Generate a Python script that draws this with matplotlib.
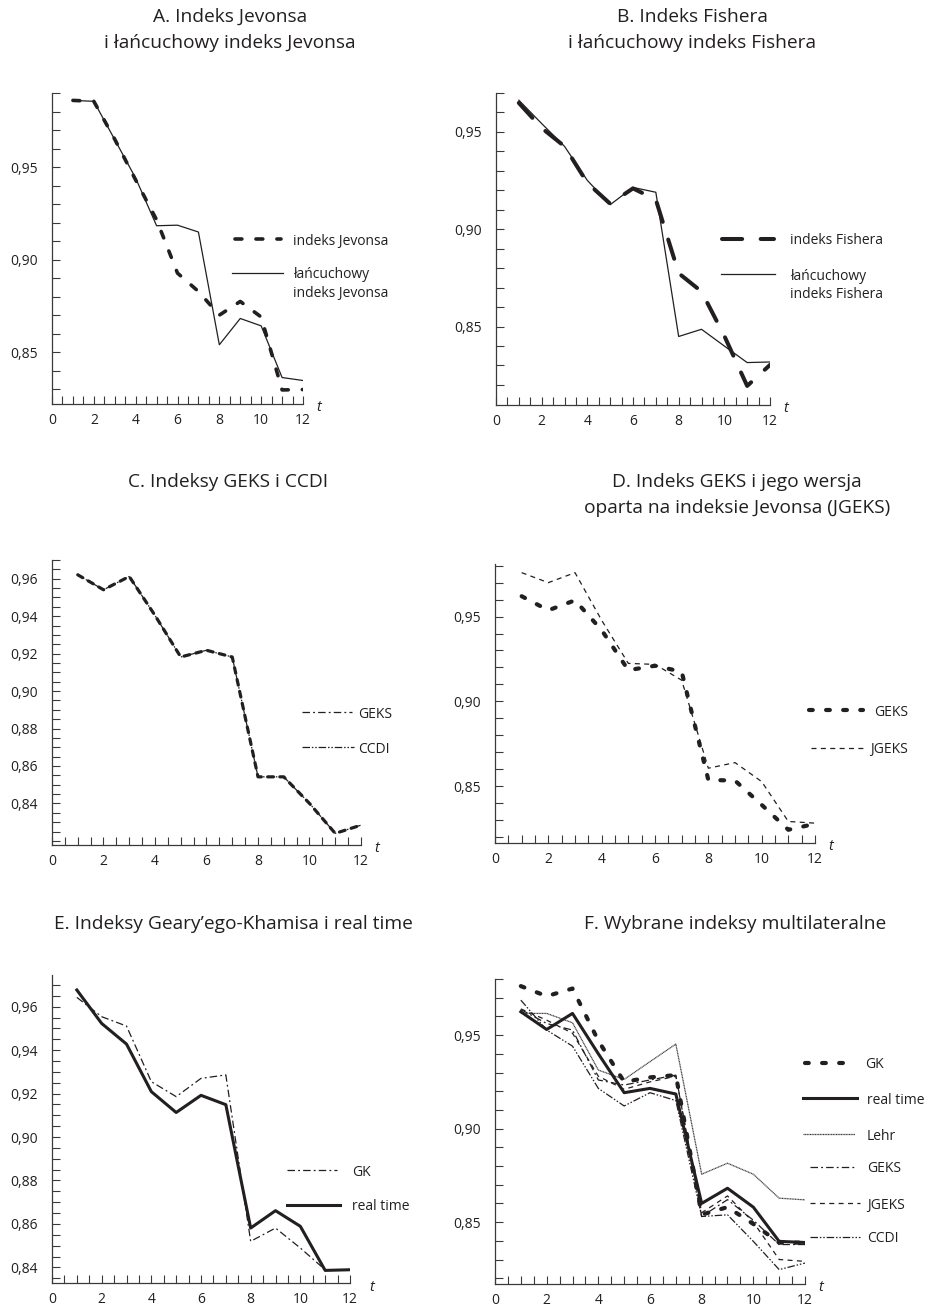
import matplotlib
matplotlib.use("Agg")
import matplotlib.pyplot as plt
import numpy as np
from matplotlib.lines import Line2D

plt.rcParams["font.family"] = ["Open Sans", "DejaVu Sans"]

INK = "#231f20"
SPINE = "#3a3a3a"
W, H = 927, 1315

t = np.arange(1, 13)

# A. Jevons vs chained Jevons
jevons = [0.986, 0.9855, 0.965, 0.943, 0.9215, 0.8927, 0.8828, 0.870, 0.8774, 0.869, 0.8296, 0.8298]
chain_jevons = [0.986, 0.9855, 0.9648, 0.944, 0.9183, 0.9186, 0.9149, 0.854, 0.8682, 0.8642, 0.8363, 0.8347]

# B. Fisher vs chained Fisher
fisher = [0.9649, 0.952, 0.9426, 0.9238, 0.9131, 0.921, 0.9152, 0.8774, 0.868, 0.8452, 0.8195, 0.8303]
chain_fisher = [0.9663, 0.9543, 0.9426, 0.9251, 0.9126, 0.9215, 0.919, 0.8449, 0.8486, 0.840, 0.8315, 0.8318]

# C. GEKS and CCDI
geks_c = [0.9621, 0.9541, 0.9612, 0.9404, 0.9182, 0.9218, 0.9182, 0.8542, 0.8542, 0.840, 0.824, 0.8284]
ccdi_c = [0.9621, 0.9541, 0.9612, 0.9404, 0.9182, 0.9218, 0.9182, 0.8542, 0.8542, 0.840, 0.824, 0.8284]

# D. GEKS and JGEKS
geks_d = [0.962, 0.9537, 0.9596, 0.942, 0.9184, 0.921, 0.9175, 0.8537, 0.8533, 0.839, 0.8243, 0.8278]
jgeks_d = [0.9759, 0.970, 0.9759, 0.9478, 0.9224, 0.9218, 0.9125, 0.8606, 0.8639, 0.8527, 0.8292, 0.8282]

# E. Geary-Khamis and real time
gk_e = [0.9643, 0.9554, 0.9511, 0.9255, 0.9186, 0.927, 0.9286, 0.852, 0.8581, 0.8489, 0.8389, 0.8389]
rt_e = [0.9677, 0.9523, 0.9428, 0.9209, 0.9113, 0.9192, 0.9149, 0.8581, 0.8661, 0.8589, 0.8386, 0.8389]

# F. selected multilateral indices
gk_f = [0.9762, 0.9708, 0.9749, 0.947, 0.925, 0.9274, 0.9286, 0.854, 0.858, 0.849, 0.839, 0.839]
rt_f = [0.9625, 0.953, 0.9616, 0.940, 0.9192, 0.9215, 0.9185, 0.860, 0.8681, 0.858, 0.8397, 0.8391]
lehr_f = [0.9616, 0.9616, 0.9566, 0.9313, 0.9263, 0.9358, 0.9452, 0.8756, 0.8815, 0.8756, 0.8628, 0.8619]
geks_f = [0.9637, 0.9562, 0.9527, 0.926, 0.9233, 0.926, 0.9286, 0.853, 0.862, 0.851, 0.838, 0.838]
jgeks_f = [0.964, 0.958, 0.951, 0.928, 0.921, 0.925, 0.928, 0.855, 0.864, 0.850, 0.830, 0.829]
ccdi_f = [0.9687, 0.9527, 0.9441, 0.9215, 0.9121, 0.9192, 0.915, 0.853, 0.8539, 0.8397, 0.8246, 0.8281]

# line styles
STY = {
    "thin": dict(lw=0.9, ls="-"),
    "thick": dict(lw=2.2, ls="-"),
    "jev": dict(lw=2.6, ls=(0, (1.9, 3.9)), dash_capstyle="round"),
    "fish": dict(lw=2.9, ls=(0, (5.0, 4.6)), dash_capstyle="round"),
    "dots": dict(lw=3.0, ls=(0, (0.9, 3.2)), dash_capstyle="round"),
    "geks_heavy": dict(lw=2.3, ls=(0, (1.8, 2.0)), dash_capstyle="round"),
    "dashdot": dict(lw=0.9, ls=(0, (6, 2.5, 1.5, 2.5))),
    "dashdotdot": dict(lw=0.9, ls=(0, (6, 1.5, 1.2, 1.5, 1.2, 1.5))),
    "dashed": dict(lw=0.9, ls=(0, (4, 3.5))),
    "dotted": dict(lw=0.9, ls=(0, (0.9, 0.4))),
}

fig = plt.figure(figsize=(W / 100, H / 100), dpi=100)


def make_axes(left, right, top, bottom):
    return fig.add_axes([left / W, 1 - bottom / H, (right - left) / W, (bottom - top) / H])


def style_axes(ax, ylim, major, minor, t_off=(11.5, -2.5)):
    ax.set_xlim(0, 12)
    ax.set_ylim(*ylim)
    for s in ["top", "right"]:
        ax.spines[s].set_visible(False)
    for s in ["left", "bottom"]:
        ax.spines[s].set_color(SPINE)
        ax.spines[s].set_linewidth(0.9)
    ax.set_xticks(range(0, 13, 2))
    ax.set_xticks(np.arange(0, 12.01, 0.5), minor=True)
    ax.set_yticks(major)
    ax.set_yticklabels([f"{v:.2f}".replace(".", ",") for v in major])
    ax.set_yticks(minor, minor=True)
    ax.tick_params(which="both", direction="in", length=5.5, width=0.8, color=SPINE)
    ax.tick_params(axis="x", labelsize=10, pad=6.5, labelcolor=INK)
    ax.tick_params(axis="y", labelsize=10, pad=10.5, labelcolor=INK)
    ax.annotate("t", xy=(1, 0), xycoords="axes fraction", xytext=t_off,
                textcoords="offset points", ha="center", va="center",
                fontsize=10.5, style="italic", color=INK)


def legend_entry(x0, x1, y, style, text_x, lines, color=INK):
    fig.add_artist(Line2D([x0 / W, x1 / W], [1 - y / H, 1 - y / H], color=color,
                          transform=fig.transFigure, **STY[style]))
    for i, line in enumerate(lines):
        fig.text(text_x / W, 1 - (y + 2 + i * 18) / H, line, fontsize=10,
                 color=INK, ha="left", va="center")


def title(x, y, lines):
    for i, line in enumerate(lines):
        fig.text(x / W, 1 - (y + i * 26) / H, line, fontsize=13.8, color=INK,
                 ha="center", va="center")


def ticks(lo, hi, step):
    return np.round(np.arange(lo, hi + step / 2, step), 3)


# ---- A ----
axA = make_axes(52, 303, 93, 404)
axA.plot(t, chain_jevons, color=INK, **STY["thin"])
axA.plot(t, jevons, color=INK, **STY["jev"])
style_axes(axA, (0.822, 0.990), [0.85, 0.90, 0.95], ticks(0.83, 0.99, 0.01))
title(230, 17, ["A. Indeks Jevonsa", "i łańcuchowy indeks Jevonsa"])
legend_entry(235, 281, 239, "jev", 293, ["indeks Jevonsa"])
legend_entry(232, 283, 273, "thin", 293, ["łańcuchowy", "indeks Jevonsa"])

# ---- B ----
axB = make_axes(496, 770, 93, 405)
axB.plot(t, chain_fisher, color=INK, **STY["thin"])
axB.plot(t, fisher, color=INK, **STY["fish"])
style_axes(axB, (0.8097, 0.970), [0.85, 0.90, 0.95], ticks(0.82, 0.97, 0.01))
title(692, 17, ["B. Indeks Fishera", "i łańcuchowy indeks Fishera"])
legend_entry(722, 774, 239, "fish", 790, ["indeks Fishera"])
legend_entry(721, 775, 274, "thin", 790, ["łańcuchowy", "indeks Fishera"])

# ---- C ----
axC = make_axes(52, 361, 560, 845)
axC.plot(t, geks_c, color=INK, **STY["geks_heavy"])
axC.plot(t, ccdi_c, color=INK, **STY["dashdotdot"])
style_axes(axC, (0.8178, 0.9698), ticks(0.84, 0.96, 0.02), ticks(0.82, 0.97, 0.005))
title(228, 482, ["C. Indeksy GEKS i CCDI"])
legend_entry(302, 352, 712, "dashdot", 358, ["GEKS"])
legend_entry(302, 354, 747, "dashdotdot", 358, ["CCDI"])

# ---- D ----
axD = make_axes(495, 815, 564, 843)
axD.plot(t, jgeks_d, color=INK, **STY["dashed"])
axD.plot(t, geks_d, color=INK, **STY["dots"])
style_axes(axD, (0.8165, 0.981), [0.85, 0.90, 0.95], ticks(0.82, 0.98, 0.01))
title(737, 482, ["D. Indeks GEKS i jego wersja", "oparta na indeksie Jevonsa (JGEKS)"])
legend_entry(809, 863, 710, "dots", 874, ["GEKS"])
legend_entry(811, 865, 748, "dashed", 870, ["JGEKS"])

# ---- E ----
axE = make_axes(52, 350, 975, 1283)
axE.plot(t, gk_e, color=INK, **STY["dashdot"])
axE.plot(t, rt_e, color=INK, **STY["thick"])
style_axes(axE, (0.8328, 0.9746), ticks(0.84, 0.96, 0.02), ticks(0.835, 0.97, 0.005),
           t_off=(16, -3))
title(233, 924, ["E. Indeksy Geary’ego-Khamisa i real time"])
legend_entry(287, 337, 1170, "dashdot", 352, ["GK"])
legend_entry(287, 340, 1205, "thick", 352, ["real time"])

# ---- F ----
axF = make_axes(495, 805, 979, 1284)
axF.plot(t, lehr_f, color="#3c3c3c", **STY["dotted"])
axF.plot(t, ccdi_f, color=INK, **STY["dashdotdot"])
axF.plot(t, geks_f, color=INK, **STY["dashdot"])
axF.plot(t, jgeks_f, color=INK, **STY["dashed"])
axF.plot(t, rt_f, color=INK, **STY["thick"])
axF.plot(t, gk_f, color=INK, **STY["dots"])
style_axes(axF, (0.8169, 0.9797), [0.85, 0.90, 0.95], ticks(0.82, 0.98, 0.01))
title(735, 924, ["F. Wybrane indeksy multilateralne"])
legend_entry(805, 856, 1063, "dots", 865, ["GK"])
legend_entry(803, 857, 1098, "thick", 867, ["real time"])
legend_entry(803, 855, 1134, "dotted", 867, ["Lehr"], color="#3c3c3c")
legend_entry(810, 855, 1167, "dashdot", 867, ["GEKS"])
legend_entry(810, 860, 1203, "dashed", 867, ["JGEKS"])
legend_entry(810, 860, 1237, "dashdotdot", 867, ["CCDI"])

fig.savefig("out.png", dpi=100)
